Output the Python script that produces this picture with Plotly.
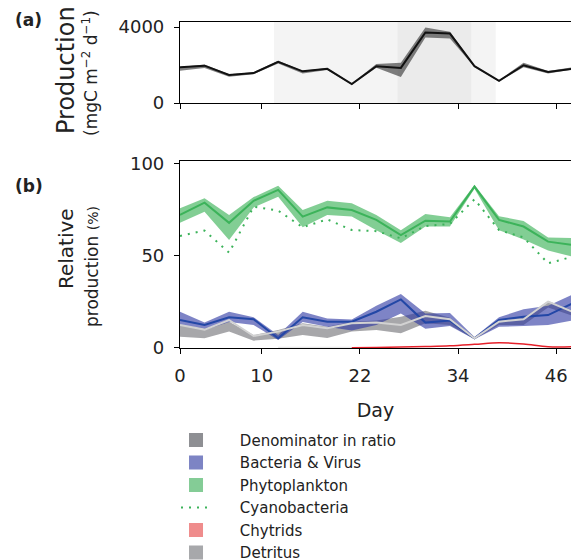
import plotly.graph_objects as go

# ---------------- data ----------------
days = [0, 3, 6, 9, 12, 15, 18, 21, 24, 27, 30, 33, 36, 39, 42, 45, 48]

# (a) total production (mgC m-2 d-1)
prod = [1880, 1970, 1480, 1580, 2170, 1670, 1800, 1000, 1940, 1850, 3720, 3660, 1940, 1170, 1990, 1640, 1810]
prod_lo = [1700, 1850, 1380, 1520, 2080, 1560, 1740, 960, 1860, 1370, 3450, 3400, 1900, 1140, 1880, 1560, 1760]
prod_hi = [1900, 2030, 1520, 1620, 2230, 1700, 1850, 1030, 2050, 2120, 3980, 3750, 1980, 1200, 2120, 1690, 1880]

# (b) relative production (%)
phyto = [72.3, 79.0, 68.0, 80.0, 85.9, 71.4, 76.4, 75.0, 69.6, 61.4, 69.2, 68.7, 87.7, 69.6, 66.0, 57.8, 56.0]
phyto_lo = [68.0, 74.0, 58.7, 76.4, 82.2, 65.6, 72.3, 71.4, 64.0, 57.0, 66.0, 66.0, 86.5, 64.0, 59.0, 53.0, 49.6]
phyto_hi = [76.0, 81.4, 72.3, 82.0, 88.2, 75.0, 80.0, 78.6, 72.3, 64.0, 72.8, 71.0, 88.5, 71.6, 69.0, 60.0, 59.8]

cyano = [60.9, 63.8, 51.8, 76.8, 74.6, 65.6, 69.9, 64.1, 63.5, 59.6, 66.3, 67.4, 80.8, 64.1, 60.1, 46.0, 49.6]

bact = [15.2, 12.5, 16.7, 15.6, 5.3, 16.7, 14.3, 14.3, 19.7, 26.4, 13.8, 14.9, 5.3, 15.2, 17.0, 17.9, 24.3]
bact_lo = [12.5, 9.8, 14.1, 12.5, 4.3, 14.1, 11.5, 9.5, 12.5, 18.8, 10.5, 12.0, 4.8, 11.5, 12.0, 12.5, 15.0]
bact_hi = [19.7, 13.8, 19.7, 16.7, 7.0, 19.7, 16.0, 15.5, 23.0, 29.3, 18.8, 19.0, 6.0, 16.7, 21.0, 23.0, 29.0]

detr = [12.5, 10.0, 15.2, 6.5, 8.9, 12.5, 10.7, 13.4, 13.8, 12.5, 17.4, 15.6, 5.3, 14.3, 15.6, 25.2, 19.7]
detr_lo = [6.1, 5.3, 8.9, 4.0, 5.0, 7.0, 5.5, 8.9, 9.8, 8.0, 13.4, 12.5, 4.8, 12.5, 12.5, 22.0, 17.5]
detr_hi = [12.5, 10.7, 14.3, 7.0, 9.8, 13.4, 11.5, 14.3, 15.0, 17.0, 20.3, 16.5, 5.8, 15.2, 16.5, 25.5, 20.5]

chyt_days = [12, 15, 18, 21, 24, 27, 30, 33, 36, 39, 42, 45, 48]
chyt = [0.1, 0.1, 0.1, 0.2, 0.3, 0.5, 0.8, 1.2, 2.0, 2.9, 2.2, 0.7, 0.7]
chyt_visible_from = 20.5

light_period = [11.5, 38.6]
dark_period = [26.6, 35.6]

x_ticks = [0, 10, 22, 34, 46]
ya_ticks = [0, 4000]
yb_ticks = [0, 50, 100]

FONT = "DejaVu Sans"

fig = go.Figure()


def band(x, lo, hi, color, xa, ya):
    fig.add_trace(go.Scatter(x=x, y=hi, mode="lines", line=dict(width=0), showlegend=False,
                             hoverinfo="skip", xaxis=xa, yaxis=ya))
    fig.add_trace(go.Scatter(x=x, y=lo, mode="lines", line=dict(width=0), fill="tonexty",
                             fillcolor=color, showlegend=False, hoverinfo="skip", xaxis=xa, yaxis=ya))


# (a)
band(days, prod_lo, prod_hi, "rgba(60,60,60,0.65)", "x", "y")
fig.add_trace(go.Scatter(x=days, y=prod, mode="lines", line=dict(color="#111111", width=2),
                         showlegend=False, xaxis="x", yaxis="y"))

# (b)
band(days, detr_lo, detr_hi, "rgba(120,120,125,0.65)", "x2", "y2")
band(days, bact_lo, bact_hi, "rgba(40,50,160,0.6)", "x2", "y2")
band(days, phyto_lo, phyto_hi, "rgba(40,170,70,0.58)", "x2", "y2")
# faint early chytrid trace, then red
early = [(d, v) for d, v in zip(chyt_days, chyt) if d <= 21]
fig.add_trace(go.Scatter(x=[d for d, _ in early], y=[v for _, v in early], mode="lines",
                         line=dict(color="#e8e8e8", width=2), showlegend=False, xaxis="x2", yaxis="y2"))
late = [(d, v) for d, v in zip(chyt_days, chyt) if d >= 21]
fig.add_trace(go.Scatter(x=[d for d, _ in late], y=[v for _, v in late], mode="lines",
                         line=dict(color="#e5202a", width=1.5, shape="spline"),
                         showlegend=False, xaxis="x2", yaxis="y2"))
fig.add_trace(go.Scatter(x=days, y=bact, mode="lines", line=dict(color="#2347a6", width=2),
                         showlegend=False, xaxis="x2", yaxis="y2"))
fig.add_trace(go.Scatter(x=days, y=detr, mode="lines", line=dict(color="#d2d2d2", width=2),
                         showlegend=False, xaxis="x2", yaxis="y2"))
fig.add_trace(go.Scatter(x=days, y=phyto, mode="lines", line=dict(color="#3cb35a", width=2),
                         showlegend=False, xaxis="x2", yaxis="y2"))
fig.add_trace(go.Scatter(x=days, y=cyano, mode="lines", line=dict(color="#3cb35a", width=2, dash="2px,6px"),
                         showlegend=False, xaxis="x2", yaxis="y2"))

# legend entries
legend_items = [
    ("Denominator in ratio", "#8e8f93", "square"),
    ("Bacteria & Virus", "#7d84c4", "square"),
    ("Phytoplankton", "#84cc96", "square"),
    ("Cyanobacteria", "#3cb35a", "dot"),
    ("Chytrids", "#ef8c8c", "square"),
    ("Detritus", "#a7a8ab", "square"),
]
PAD = "\u00a0" * 5
for name, col, kind in legend_items:
    if kind == "square":
        fig.add_trace(go.Scatter(x=[None], y=[None], mode="markers", name=PAD + name,
                                 marker=dict(symbol="square", size=14, color=col),
                                 xaxis="x2", yaxis="y2"))
    else:
        fig.add_trace(go.Scatter(x=[None], y=[None], mode="lines", name=PAD + name,
                                 line=dict(color=col, width=2, dash="2px,6px"),
                                 xaxis="x2", yaxis="y2"))

# shaded periods in (a)
for (x0, x1), col in [(light_period, "#f4f4f4"), (dark_period, "#ebebeb")]:
    fig.add_shape(type="rect", xref="x", yref="y domain", x0=x0, x1=x1, y0=0, y1=1,
                  fillcolor=col, line=dict(width=0), layer="below")

axis_common = dict(showline=True, linecolor="black", linewidth=1.2, ticks="outside", ticklen=5,
                   tickcolor="black", showgrid=False, zeroline=False,
                   tickfont=dict(family=FONT, size=18, color="#222"))

fig.update_layout(
    width=571, height=560,
    margin=dict(l=180, r=0, t=22, b=212, autoexpand=False),
    paper_bgcolor="white", plot_bgcolor="white",
    font=dict(family=FONT, color="#222"),
    xaxis=dict(domain=[0, 1], range=[0, 47.8], anchor="y", tickvals=x_ticks, showticklabels=False,
               mirror=True, **axis_common),
    yaxis=dict(domain=[0.7515, 1], range=[0, 4270], anchor="x", tickvals=ya_ticks,
               ticklabelstandoff=6, **axis_common),
    xaxis2=dict(domain=[0, 1], range=[0, 47.8], anchor="y2", tickvals=x_ticks, mirror=True,
                ticklabelstandoff=6,
                title=dict(text="Day", font=dict(family=FONT, size=19, color="#222"), standoff=18),
                **axis_common),
    yaxis2=dict(domain=[0, 0.5736], range=[0, 101.6], anchor="x2", tickvals=yb_ticks,
                ticklabelstandoff=6, **axis_common),
    legend=dict(x=-0.0102, y=-0.2327, xanchor="left", yanchor="top", itemwidth=30,
                traceorder="normal",
                font=dict(family=FONT, size=15, color="#222"), bgcolor="rgba(0,0,0,0)"),
    showlegend=True,
)

ann = [
    dict(text="<b>(a)</b>", x=13, y=20, size=17, angle=0),
    dict(text="<b>(b)</b>", x=13, y=186, size=17, angle=0),
    dict(text="Production", x=66, y=70, size=24, angle=-90),
    dict(text="(mgC m<sup>−2</sup> d<sup>−1</sup>)", x=90, y=73, size=17, angle=-90),
    dict(text="Relative", x=66, y=248, size=20, angle=-90),
    dict(text="production <span style='font-size:14px'>(%)</span>", x=92, y=267, size=17, angle=-90),
]
for a in ann:
    fig.add_annotation(text=a["text"], xref="paper", yref="paper",
                       x=(a["x"] - 180) / 391, y=(348 - a["y"]) / 326,
                       xanchor="left" if a["angle"] == 0 else "center",
                       yanchor="middle", textangle=a["angle"], showarrow=False,
                       font=dict(family=FONT, size=a["size"], color="#222"))

fig.write_html("out.html", config={"displayModeBar": False},
               post_script="document.body.style.margin='0';window.dispatchEvent(new Event('resize'));")
